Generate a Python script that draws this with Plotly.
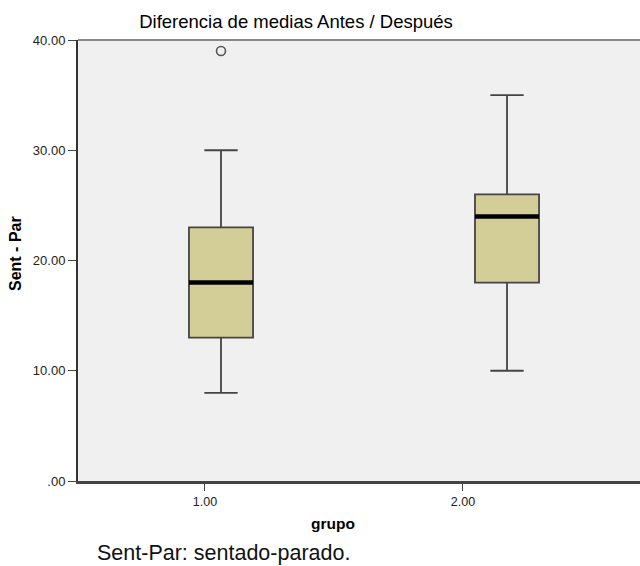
import plotly.graph_objects as go

# ---- data ----
groups = [1, 2]
group_labels = ["1.00", "2.00"]
q1 = [13, 18]
median = [18, 24]
q3 = [23, 26]
lower = [8, 10]
upper = [30, 35]
outlier_group = [1]
outlier_value = [39]
y_ticks = [0, 10, 20, 30, 40]
y_tick_labels = [".00", "10.00", "20.00", "30.00", "40.00"]

title = "Diferencia de medias Antes / Después"
y_title = "Sent - Par"
x_title = "grupo"
caption = "Sent-Par: sentado-parado."

# ---- style ----
FONT = "Liberation Sans, Arial, sans-serif"
BOX_W = 0.224
FILL = "#D3CE97"
LINE = "#444444"
# tick marks in the reference sit slightly left of the boxes
x_tick_pos = [0.944, 1.846]

fig = go.Figure()
for i, g in enumerate(groups):
    fig.add_trace(go.Box(
        x=[g], q1=[q1[i]], median=[median[i]], q3=[q3[i]],
        lowerfence=[lower[i]], upperfence=[upper[i]],
        width=BOX_W, whiskerwidth=0.52,
        fillcolor=FILL, line=dict(color=LINE, width=1.8),
        boxpoints=False, showlegend=False, hoverinfo="skip"))
    fig.add_trace(go.Scatter(
        x=[g - BOX_W / 2, g + BOX_W / 2], y=[median[i], median[i]],
        mode="lines", line=dict(color="black", width=4.5),
        showlegend=False, hoverinfo="skip"))

fig.add_trace(go.Scatter(
    x=outlier_group, y=outlier_value, mode="markers",
    marker=dict(symbol="circle-open", size=9, color="#555555",
                line=dict(width=1.6, color="#555555")),
    showlegend=False, hoverinfo="skip"))

fig.update_layout(
    width=640, height=566,
    margin=dict(l=78, r=0, t=40, b=85),
    paper_bgcolor="white", plot_bgcolor="#F0F0F0",
    font=dict(family=FONT, color="#222222"),
    title=dict(text=title, x=(296 - 78) / 562, xref="paper", xanchor="center",
               y=1 - 22 / 566, yref="container", yanchor="middle",
               font=dict(size=18.5, color="black")),
    xaxis=dict(range=[0.5, 2.465], showgrid=False, zeroline=False,
               tickvals=x_tick_pos, ticktext=group_labels,
               ticks="outside", ticklen=7, tickcolor="#444", tickwidth=1,
               showline=True, linecolor="#444", linewidth=2.5,
               tickfont=dict(size=12.5, color="#222")),
    yaxis=dict(range=[0, 40], showgrid=False, zeroline=False,
               tickvals=y_ticks, ticktext=y_tick_labels,
               ticks="outside", ticklen=8, tickcolor="#444", tickwidth=1,
               showline=True, linecolor="#333", linewidth=2,
               tickfont=dict(size=13, color="#222")),
    shapes=[dict(type="line", xref="paper", yref="paper", x0=0, x1=1, y0=1, y1=1,
                 line=dict(color="#888888", width=2))],
    annotations=[
        dict(text="<b>" + y_title + "</b>", xref="paper", yref="paper",
             x=(15 - 78) / 562, y=(481 - 254) / 441, textangle=-90,
             showarrow=False, xanchor="center", yanchor="middle",
             font=dict(size=16, color="black")),
        dict(text="<b>" + x_title + "</b>", xref="paper", yref="paper",
             x=(333 - 78) / 562, y=(481 - 523) / 441,
             showarrow=False, xanchor="center", yanchor="middle",
             font=dict(size=15.5, color="black")),
        dict(text=caption, xref="paper", yref="paper",
             x=(95 - 78) / 562, y=(481 - 553) / 441,
             showarrow=False, xanchor="left", yanchor="middle",
             font=dict(size=21.5, color="#111")),
    ],
)

fig.write_html("out.html",
               config={"displayModeBar": False},
               post_script="document.body.style.margin='0';"
                           "document.body.style.overflow='hidden';")
